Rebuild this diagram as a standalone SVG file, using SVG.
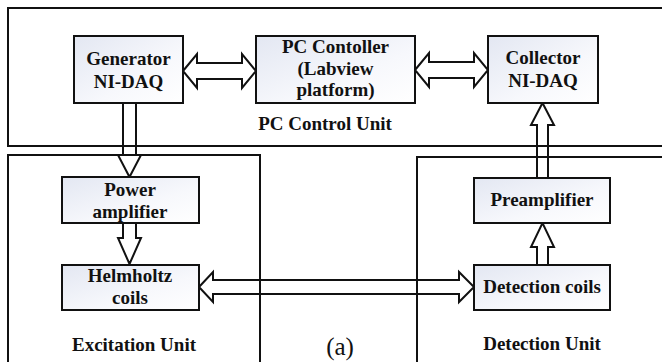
<svg xmlns="http://www.w3.org/2000/svg" width="662" height="362" viewBox="0 0 662 362">
  <defs>
    <linearGradient id="boxFill" x1="0" y1="0" x2="1" y2="1">
      <stop offset="0" stop-color="#e3e7f2"/>
      <stop offset="0.6" stop-color="#f7f8fc"/>
      <stop offset="1" stop-color="#ffffff"/>
    </linearGradient>
  </defs>
  <style>
    .unit { fill: none; stroke: #111; stroke-width: 2; }
    .box { fill: url(#boxFill); stroke: #111; stroke-width: 2; }
    .arrow { fill: none; stroke: #111; stroke-width: 2; stroke-linejoin: miter; }
    .lbl { font-family: "Liberation Serif", "Times New Roman", serif; font-weight: bold; font-size: 19px; fill: #111; text-anchor: middle; }
    .cap { font-family: "Liberation Serif", "Times New Roman", serif; font-size: 25px; fill: #111; text-anchor: middle; }
  </style>
  <rect width="662" height="362" fill="#ffffff"/>

  <!-- unit frames -->
  <g id="pc-control-unit">
    <rect class="unit" x="8" y="8" width="664" height="138"/>
    <text class="lbl" x="325" y="130">PC Control Unit</text>
  </g>
  <g id="excitation-unit">
    <rect class="unit" x="8" y="155" width="252" height="220"/>
    <text class="lbl" x="134" y="351">Excitation Unit</text>
  </g>
  <g id="detection-unit">
    <rect class="unit" x="417" y="157" width="260" height="220"/>
    <text class="lbl" x="542" y="350">Detection Unit</text>
  </g>

  <!-- connectors -->
  <g id="connectors">
    <path class="arrow" d="M183,71 L197,54 L197,63 L242,63 L242,54 L256,71 L242,88 L242,79 L197,79 L197,88 Z"/>
    <path class="arrow" d="M415,70 L429,53 L429,62 L474,62 L474,53 L488,70 L474,87 L474,78 L429,78 L429,87 Z"/>
    <path class="arrow" d="M123,103 L136,103 L136,155 L141,155 L129.5,177 L118,155 L123,155 Z"/>
    <path class="arrow" d="M123,223 L136,223 L136,238 L141,238 L129.5,264 L118,238 L123,238 Z"/>
    <path class="arrow" d="M199,287 L213,272 L213,280 L459,280 L459,272 L474,287 L459,302 L459,294 L213,294 L213,302 Z"/>
    <path class="arrow" d="M537,265 L537,247 L531,247 L542.5,223 L554,247 L548,247 L548,265 Z"/>
    <path class="arrow" d="M537,178 L537,125 L531,125 L542.5,103 L554,125 L548,125 L548,178 Z"/>
  </g>

  <!-- blocks -->
  <g id="generator">
    <rect class="box" x="74" y="36" width="109" height="67"/>
    <text class="lbl" x="128.5" y="65">Generator</text>
    <text class="lbl" x="128.5" y="88">NI-DAQ</text>
  </g>
  <g id="pc-controller">
    <rect class="box" x="256" y="36" width="159" height="67"/>
    <text class="lbl" x="335.5" y="53">PC Contoller</text>
    <text class="lbl" x="335.5" y="75">(Labview</text>
    <text class="lbl" x="335.5" y="96">platform)</text>
  </g>
  <g id="collector">
    <rect class="box" x="488" y="36" width="110" height="67"/>
    <text class="lbl" x="543" y="64">Collector</text>
    <text class="lbl" x="543" y="87">NI-DAQ</text>
  </g>
  <g id="power-amplifier">
    <rect class="box" x="62" y="177" width="137" height="46"/>
    <text class="lbl" x="130" y="196">Power</text>
    <text class="lbl" x="130" y="218">amplifier</text>
  </g>
  <g id="helmholtz-coils">
    <rect class="box" x="62" y="265" width="137" height="45"/>
    <text class="lbl" x="130" y="282">Helmholtz</text>
    <text class="lbl" x="130" y="304">coils</text>
  </g>
  <g id="preamplifier">
    <rect class="box" x="474" y="178" width="136" height="45"/>
    <text class="lbl" x="542" y="206">Preamplifier</text>
  </g>
  <g id="detection-coils">
    <rect class="box" x="474" y="265" width="136" height="45"/>
    <text class="lbl" x="542" y="293">Detection coils</text>
  </g>

  <text class="cap" x="340" y="355">(a)</text>
</svg>
